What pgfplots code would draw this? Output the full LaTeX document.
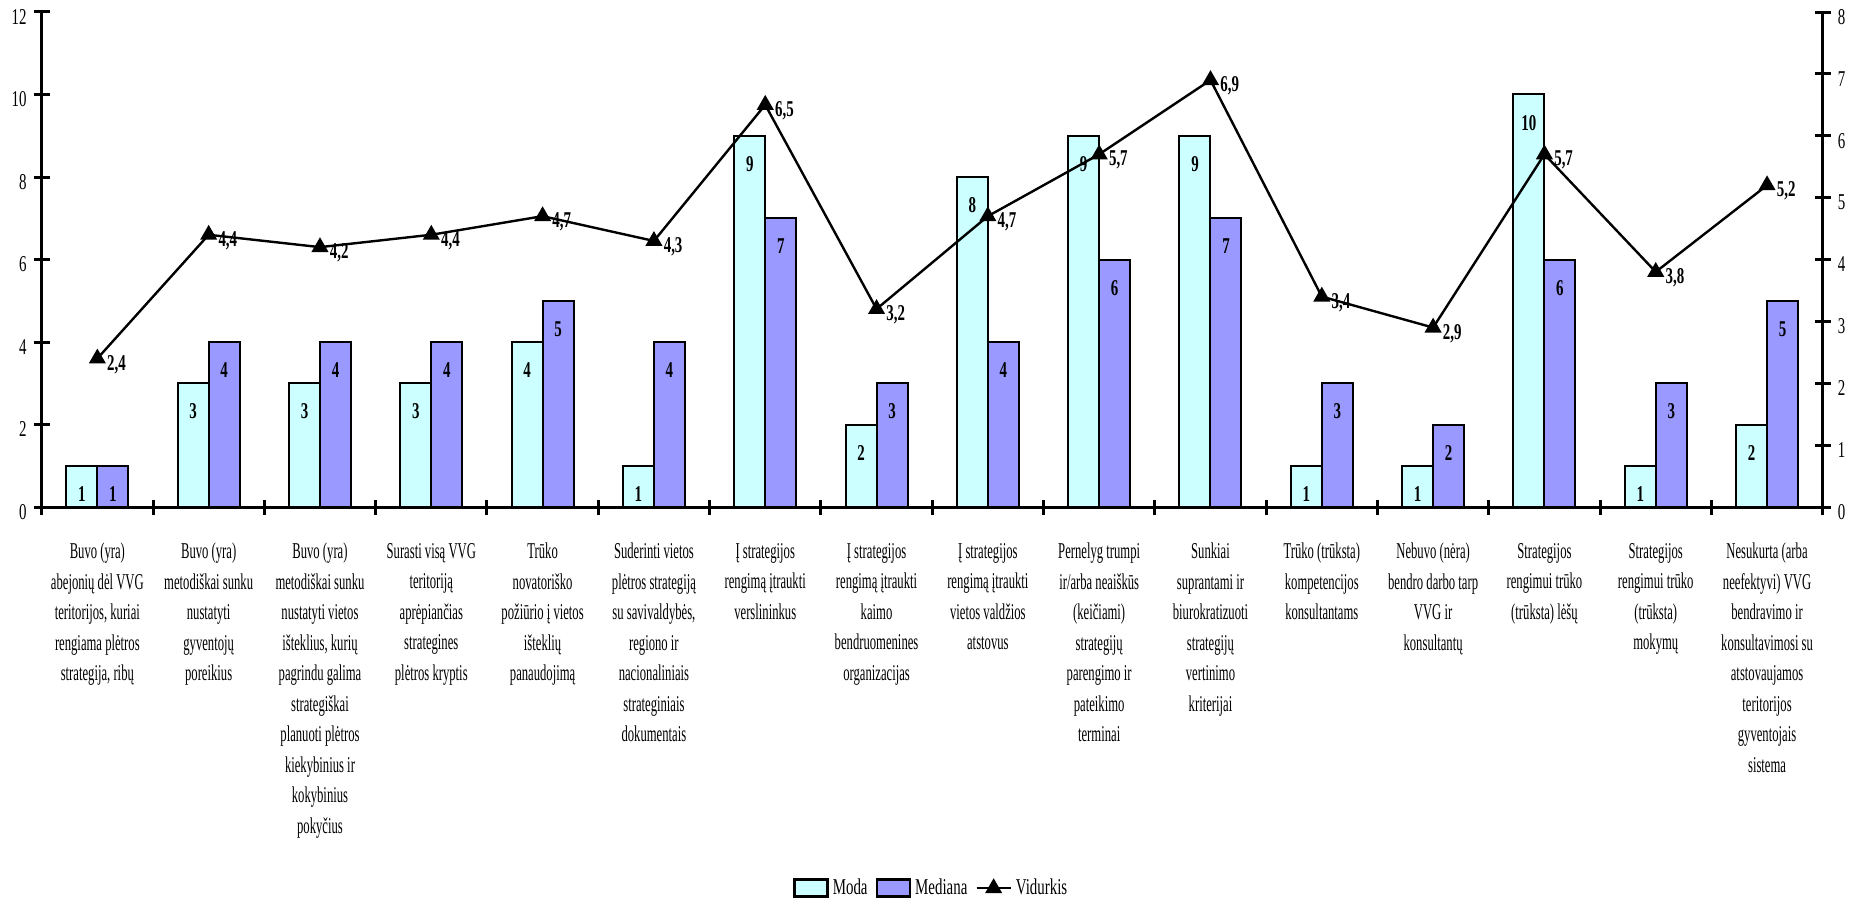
\documentclass[border=0pt]{standalone}
\usepackage{fontspec}
\setmainfont{Liberation Serif}[FakeStretch=0.56]
\newfontfamily\tickfont{Liberation Serif}[FakeStretch=0.66]
\usepackage{pgfplots}
\pgfplotsset{compat=1.18}
\definecolor{moda}{HTML}{CCFFFF}
\definecolor{mediana}{HTML}{9999FF}
\begin{document}
\begin{tikzpicture}
\path[use as bounding box] (0,0) rectangle (930.5pt,450.5pt);
\begin{axis}[
  at={(20.85pt,197pt)}, anchor=south west, scale only axis,
  width=890.5pt, height=247.5pt,
  xmin=-0.5, xmax=15.5, ymin=0, ymax=12,
  ybar=0pt, bar width=15.5pt,
  axis lines*=left,
  axis line style={line width=1.5pt},
  tick align=center,
  major tick length=8pt,
  minor tick length=7.5pt,
  every tick/.style={black, line width=1.5pt},
  major x tick style={draw=none},
  xtick={0,...,15},
  minor xtick={-0.5,0.5,...,15.5},
  ytick={0,2,...,12},
  /pgf/number format/assume math mode=true,
  yticklabel style={font=\tickfont\fontsize{11.3}{13}\selectfont, yshift=-2.5pt},
  xticklabel style={font=\fontsize{11.3}{15.25}\selectfont, align=center, anchor=north, yshift=-10.5pt},
  xticklabels={
    {Buvo (yra)\\abejonių dėl VVG\\teritorijos, kuriai\\rengiama plėtros\\strategija, ribų},
    {Buvo (yra)\\metodiškai sunku\\nustatyti\\gyventojų\\poreikius},
    {Buvo (yra)\\metodiškai sunku\\nustatyti vietos\\išteklius, kurių\\pagrindu galima\\strategiškai\\planuoti plėtros\\kiekybinius ir\\kokybinius\\pokyčius},
    {Surasti visą VVG\\teritoriją\\aprėpiančias\\strategines\\plėtros kryptis},
    {Trūko\\novatoriško\\požiūrio į vietos\\išteklių\\panaudojimą},
    {Suderinti vietos\\plėtros strategiją\\su savivaldybės,\\regiono ir\\nacionaliniais\\strateginiais\\dokumentais},
    {Į strategijos\\rengimą įtraukti\\verslininkus},
    {Į strategijos\\rengimą įtraukti\\kaimo\\bendruomenines\\organizacijas},
    {Į strategijos\\rengimą įtraukti\\vietos valdžios\\atstovus},
    {Pernelyg trumpi\\ir/arba neaiškūs\\(keičiami)\\strategijų\\parengimo ir\\pateikimo\\terminai},
    {Sunkiai\\suprantami ir\\biurokratizuoti\\strategijų\\vertinimo\\kriterijai},
    {Trūko (trūksta)\\kompetencijos\\konsultantams},
    {Nebuvo (nėra)\\bendro darbo tarp\\VVG ir\\konsultantų},
    {Strategijos\\rengimui trūko\\(trūksta) lėšų},
    {Strategijos\\rengimui trūko\\(trūksta)\\mokymų},
    {Nesukurta (arba\\neefektyvi) VVG\\bendravimo ir\\konsultavimosi su\\atstovaujamos\\teritorijos\\gyventojais\\sistema}
  },
  nodes near coords,
  every node near coord/.append style={anchor=north, yshift=-6.5pt, black, font=\tickfont\bfseries\fontsize{11.3}{13}\selectfont},
  clip=false,
]
\addplot[fill=moda, draw=black, line width=1pt] coordinates {
(0,1) (1,3) (2,3) (3,3) (4,4) (5,1) (6,9) (7,2) (8,8) (9,9) (10,9) (11,1) (12,1) (13,10) (14,1) (15,2)};
\addplot[fill=mediana, draw=black, line width=1pt] coordinates {
(0,1) (1,4) (2,4) (3,4) (4,5) (5,4) (6,7) (7,3) (8,4) (9,6) (10,7) (11,3) (12,2) (13,6) (14,3) (15,5)};
\end{axis}
\begin{axis}[
  at={(20.85pt,197pt)}, anchor=south west, scale only axis,
  width=890.5pt, height=247.5pt,
  xmin=-0.5, xmax=15.5, ymin=0, ymax=8,
  axis y line*=right, axis x line=none,
  axis line style={line width=1.5pt},
  tick align=center,
  major tick length=8pt,
  every tick/.style={black, line width=1.5pt},
  ytick={0,...,8},
  /pgf/number format/assume math mode=true,
  yticklabel style={font=\tickfont\fontsize{11.3}{13}\selectfont, yshift=-2.5pt},
  clip=false,
  legend columns=3,
  legend style={draw=none, at={(0.5,-0.77)}, anchor=center, font=\tickfont\fontsize{11.3}{13}\selectfont,
    /tikz/every even column/.append style={column sep=2pt}},
]
\addlegendimage{legend image code/.code={\draw[fill=moda,draw=black,line width=1.3pt] (0pt,-4.25pt) rectangle (16.5pt,4.25pt);}}
\addlegendentry{Moda}
\addlegendimage{legend image code/.code={\draw[fill=mediana,draw=black,line width=1.3pt] (0pt,-4.25pt) rectangle (16.5pt,4.25pt);}}
\addlegendentry{Mediana}
\addplot[black, line width=1.2pt, mark=triangle*, mark size=3.75pt,
  point meta=y,
  nodes near coords={\pgfmathprintnumber[fixed,precision=1,zerofill,use comma]{\pgfplotspointmeta}},
  every node near coord/.append style={anchor=west, xshift=1pt, yshift=-3pt, font=\tickfont\bfseries\fontsize{11.3}{13}\selectfont}]
 coordinates {
(0,2.4) (1,4.4) (2,4.2) (3,4.4) (4,4.7) (5,4.3) (6,6.5) (7,3.2) (8,4.7) (9,5.7) (10,6.9) (11,3.4) (12,2.9) (13,5.7) (14,3.8) (15,5.2)};
\addlegendentry{Vidurkis}
\end{axis}
\end{tikzpicture}
\end{document}
